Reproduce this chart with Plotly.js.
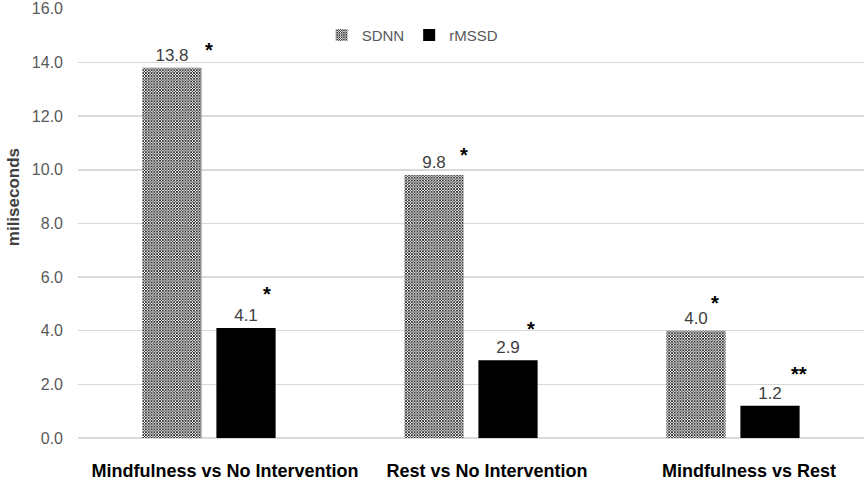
<!DOCTYPE html>
<html>
<head>
<meta charset="utf-8">
<script src="https://cdn.plot.ly/plotly-3.0.1.min.js"></script>
<style>
  html, body { margin: 0; padding: 0; background: #fff; }
  #chart { width: 867px; height: 486px; }
</style>
</head>
<body>
<div id="chart"></div>
<script>
// comparaciones y valores (ms)
const comparisons = ['Mindfulness vs No Intervention', 'Rest vs No Intervention', 'Mindfulness vs Rest'];
const sdnn = [13.8, 9.8, 4.0];
const rmssd = [4.1, 2.9, 1.2];
const sdnnSig = ['*', '*', '*'];
const rmssdSig = ['*', '*', '**'];
const yTicks = [0, 2, 4, 6, 8, 10, 12, 14, 16];
const yTitle = 'miliseconds';

// desplazamiento (px) de los asteriscos, como en el original
const sdnnStarShift = [[0, 18], [-7, 20], [-18, 28]];
const rmssdStarShift = [[58, 34], [60, 31], [66, 32]];

const FONT = 'Liberation Sans, Arial, sans-serif';
const labelFont = { family: FONT, size: 17, color: '#404040' };

let traces = [
  {
    type: 'bar',
    name: 'SDNN',
    x: comparisons,
    y: sdnn,
    text: sdnn.map(v => v.toFixed(1)),
    textposition: 'outside',
    textfont: labelFont,
    cliponaxis: false,
    marker: {
      color: '#ffffff',
      line: { width: 0 },
      pattern: { shape: 'x', size: 2, solidity: 0.6, fgcolor: '#000000', bgcolor: '#ffffff' }
    },
    hoverinfo: 'none'
  },
  {
    type: 'bar',
    name: 'rMSSD',
    x: comparisons,
    y: rmssd,
    text: rmssd.map(v => v.toFixed(1)),
    textposition: 'outside',
    textfont: labelFont,
    cliponaxis: false,
    marker: { color: '#000000', line: { width: 0 } },
    hoverinfo: 'none'
  }
];

// asteriscos de significancia
let annotations = [];
comparisons.forEach((c, i) => {
  annotations.push({
    x: c, y: sdnn[i], xref: 'x', yref: 'y',
    text: '<b>' + sdnnSig[i] + '</b>',
    showarrow: false, xshift: sdnnStarShift[i][0], yshift: sdnnStarShift[i][1],
    font: { family: FONT, size: 20, color: '#000' }
  });
  annotations.push({
    x: c, y: rmssd[i], xref: 'x', yref: 'y',
    text: '<b>' + rmssdSig[i] + '</b>',
    showarrow: false, xshift: rmssdStarShift[i][0], yshift: rmssdStarShift[i][1],
    font: { family: FONT, size: 20, color: '#000' }
  });
});

// titulo del eje y (un poco por encima del centro, como en el original)
annotations.push({
  xref: 'paper', yref: 'paper', x: 0, y: 0.56,
  xanchor: 'center', yanchor: 'middle', xshift: -65,
  text: '<b>' + yTitle + '</b>', textangle: -90, showarrow: false,
  font: { family: FONT, size: 17, color: '#404040' }
});

const layout = {
  width: 867,
  height: 486,
  margin: { l: 78, r: 3, t: 8, b: 48 },
  paper_bgcolor: '#ffffff',
  plot_bgcolor: '#ffffff',
  barmode: 'group',
  bargap: 0.435,
  bargroupgap: 0.2,
  showlegend: true,
  legend: {
    orientation: 'h',
    x: 0.31, y: 0.975, xanchor: 'left', yanchor: 'top',
    font: { family: FONT, size: 15, color: '#595959' },
    bgcolor: 'rgba(0,0,0,0)',
    itemwidth: 30
  },
  xaxis: {
    type: 'category',
    tickfont: { family: FONT, size: 18, color: '#000', weight: 'bold' },
    ticks: '',
    showline: false,
    showgrid: false,
    ticklabelstandoff: 20,
    ticklabelshift: 16
  },
  yaxis: {
    range: [0, 16.03],
    tickvals: yTicks,
    ticktext: yTicks.map(v => v.toFixed(1)),
    tickfont: { family: FONT, size: 16, color: '#595959' },
    gridcolor: '#d9d9d9',
    gridwidth: 1.5,
    zeroline: true,
    zerolinecolor: '#d9d9d9',
    zerolinewidth: 1.5,
    ticklabelstandoff: 14
  },
  annotations: annotations
};

Plotly.newPlot('chart', traces, layout, { displayModeBar: false, staticPlot: true });
</script>
</body>
</html>
